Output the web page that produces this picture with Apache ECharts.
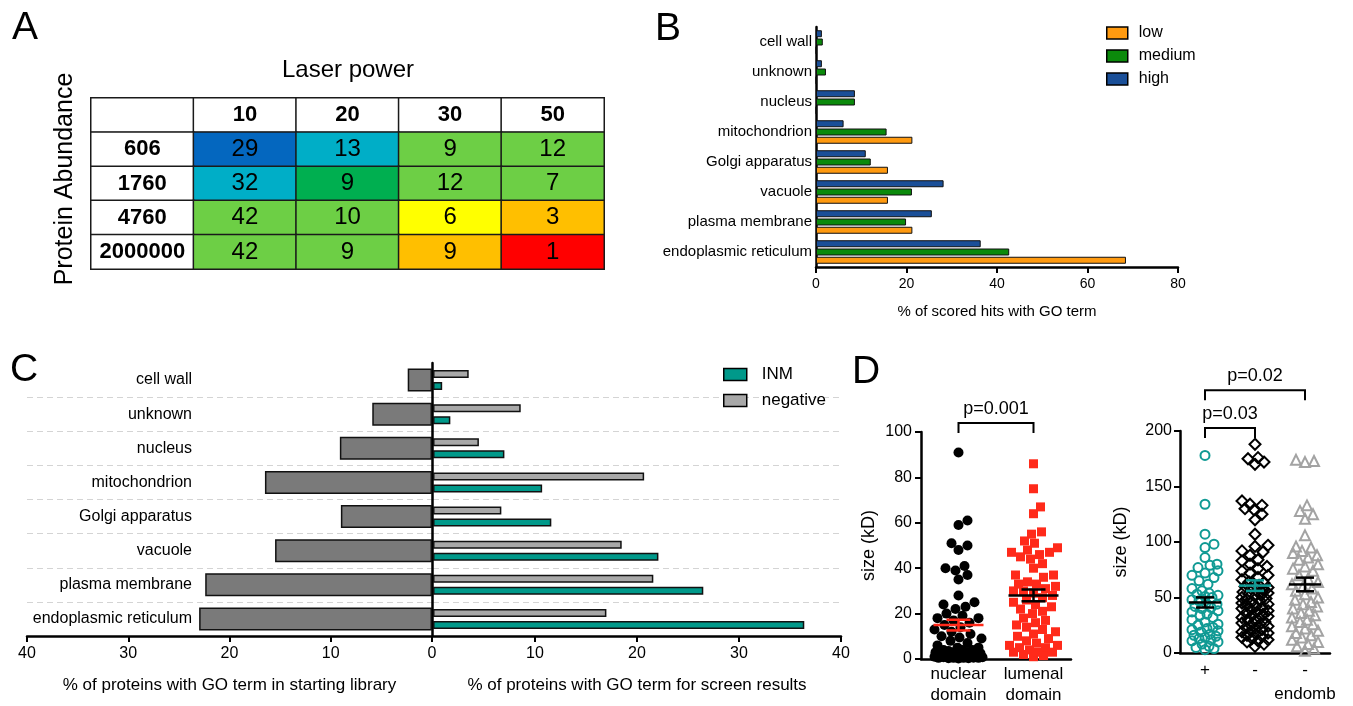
<!DOCTYPE html>
<html>
<head>
<meta charset="utf-8">
<script src="https://cdn.jsdelivr.net/npm/echarts@6/dist/echarts.min.js"></script>
<style>
html, body { margin: 0; padding: 0; background: #fff; }
#chart { width: 1353px; height: 706px; }
</style>
</head>
<body>
<div id="chart"></div>
<script>
// ---------- data ----------
// A: hits per laser power (cols) and protein abundance (rows)
const laserPowers = ['10', '20', '30', '50'];
const abundances = ['606', '1760', '4760', '2000000'];
const hitCounts = [
  [29, 13, 9, 12],
  [32, 9, 12, 7],
  [42, 10, 6, 3],
  [42, 9, 9, 1]
];
const cellTones = [
  ['blue', 'cyan', 'lime', 'lime'],
  ['cyan', 'green', 'lime', 'lime'],
  ['lime', 'lime', 'yellow', 'orange'],
  ['lime', 'lime', 'orange', 'red']
];

// B + C share the GO terms (bottom -> top)
const goTerms = ['endoplasmic reticulum', 'plasma membrane', 'vacuole', 'Golgi apparatus',
  'mitochondrion', 'nucleus', 'unknown', 'cell wall'];
const lowHits = [68.5, 21.3, 15.9, 15.9, 21.3, 0, 0, 0];
const mediumHits = [42.7, 19.9, 21.2, 12.1, 15.6, 8.6, 2.2, 1.5];
const highHits = [36.4, 25.6, 28.2, 11.0, 6.1, 8.6, 1.3, 1.3];

const libraryPct = [23.0, 22.4, 15.5, 9.0, 16.5, 9.1, 5.9, 2.4];
const inmPct = [36.4, 26.5, 22.1, 11.6, 10.7, 7.0, 1.7, 0.9];
const negativePct = [17.0, 21.6, 18.5, 6.7, 20.7, 4.5, 8.6, 3.5];

// D: protein sizes (kD)
const domainCats = ['nuclear\ndomain', 'lumenal\ndomain'];
const nuclearDomain = [91, 61, 59, 51, 50, 48, 41, 40, 39, 37, 35, 28, 25, 24, 23, 22, 20, 19, 18, 18,
  17, 16, 15, 14, 13, 12, 11, 10, 9.5, 9, 8, 7, 6, 5, 5, 4, 4, 3.5, 3, 3, 2.5, 2, 2, 1.5, 1.5, 1, 1,
  0.8, 0.5, 0.5, 0.3, 2, 1.5, 1, 0.5, 0.5, 0.3, 0.2, 3, 4, 2.5, 1.2, 0.8, 0.6];
const lumenalDomain = [86, 75, 67, 64, 56, 55, 52, 51, 49, 47, 47, 46, 45, 44, 42, 37, 37, 36, 34, 33,
  32, 31, 30, 29, 28, 27, 26, 25, 24, 23, 22, 21, 20, 18, 17, 16, 15, 14, 13, 12, 11, 10, 9, 8, 7, 6,
  5, 5, 4, 3, 3, 2, 1.5, 1, 3, 30, 33, 40, 48, 6];

const endombCats = ['+', '-', '-\nendomb'];
const sizePlus = [178, 134, 107, 98, 95, 86, 80, 79, 77, 74, 72, 70, 68, 65, 62, 58, 56, 54, 53, 52,
  51, 50, 48, 47, 45, 44, 42, 41, 40, 38, 37, 35, 34, 32, 30, 28, 26, 25, 23, 21, 19, 17, 15, 14, 12,
  10, 8, 6, 4, 3, 5, 11, 13, 16, 20, 22];
const sizeMinus = [188, 176, 175, 172, 170, 137, 134, 133, 130, 129, 125, 120, 107, 97, 96, 92, 91, 88,
  84, 83, 80, 78, 76, 74, 72, 70, 68, 66, 64, 62, 60, 58, 56, 54, 52, 50, 48, 46, 44, 42, 40, 38, 36,
  34, 32, 30, 28, 26, 24, 22, 20, 18, 16, 14, 12, 10, 8, 6, 11, 13, 15, 17, 19, 21, 23, 25, 27, 29,
  31, 33, 35, 37, 39, 41, 43, 45, 47, 49, 51, 53, 55, 57, 59, 61, 63];
const sizeEndomb = [174, 173, 172, 133, 128, 125, 121, 106, 96, 95, 92, 90, 88, 86, 84, 80, 78, 76, 74,
  70, 67, 64, 62, 60, 58, 56, 53, 50, 48, 46, 44, 42, 40, 38, 36, 34, 32, 30, 28, 26, 24, 22, 20, 18,
  16, 14, 12, 10, 8, 6, 4, 2];

// significance brackets: [from category, to category, level]
const leftBrackets = [[0, 1, 104]];
const leftBracketText = ['p=0.001'];
const rightBrackets = [[0, 1, 202.6], [0, 2, 236.8]];
const rightBracketText = ['p=0.03', 'p=0.02'];

// ---------- helpers ----------
const FONT = 'Liberation Sans';
const toneColors = {
  blue: '#0467BF', cyan: '#00AEC7', green: '#00AF50', lime: '#6DCF45',
  yellow: '#FFFF00', orange: '#FFBF00', red: '#FF0000'
};

// simple deterministic beeswarm: pixel x offsets for each value
function swarm(values, pxPerUnit, diam, maxHalf) {
  const order = values.map((v, i) => i).sort((a, b) => values[a] - values[b]);
  const placed = [];
  const offs = new Array(values.length).fill(0);
  order.forEach(i => {
    const y = values[i] * pxPerUnit;
    let best = 0, bestScore = -1;
    for (let k = 0; k <= 2 * maxHalf; k++) {
      const dx = (k % 2 ? 1 : -1) * Math.ceil(k / 2);
      let minD = Infinity;
      for (const p of placed) {
        const d = Math.hypot(p[0] - dx, p[1] - y);
        if (d < minD) minD = d;
      }
      if (minD >= diam) { best = dx; bestScore = Infinity; break; }
      if (minD > bestScore) { bestScore = minD; best = dx; }
    }
    placed.push([best, y]);
    offs[i] = best;
  });
  return offs;
}

function meanSem(vals) {
  const n = vals.length;
  const m = vals.reduce((a, b) => a + b, 0) / n;
  const sd = Math.sqrt(vals.reduce((a, b) => a + (b - m) * (b - m), 0) / (n - 1));
  return [m, sd / Math.sqrt(n)];
}

function swarmData(cat, values, pxPerUnit, diam, maxHalf) {
  const offs = swarm(values, pxPerUnit, diam, maxHalf);
  return values.map((v, i) => ({ value: [cat, v], symbolOffset: [offs[i], 0] }));
}

function meanMark(halfW, capW, colors) {
  return function (params, api) {
    const x = api.value(0), m = api.value(1), s = api.value(2);
    const c = api.coord([x, m]);
    const hi = api.coord([x, m + s]);
    const lo = api.coord([x, m - s]);
    const st = () => ({ stroke: colors[params.dataIndex], lineWidth: 2.5 });
    return {
      type: 'group',
      children: [
        { type: 'line', shape: { x1: c[0] - halfW, y1: c[1], x2: c[0] + halfW, y2: c[1] }, style: st() },
        { type: 'line', shape: { x1: c[0], y1: hi[1], x2: c[0], y2: lo[1] }, style: st() },
        { type: 'line', shape: { x1: c[0] - capW, y1: hi[1], x2: c[0] + capW, y2: hi[1] }, style: st() },
        { type: 'line', shape: { x1: c[0] - capW, y1: lo[1], x2: c[0] + capW, y2: lo[1] }, style: st() }
      ]
    };
  };
}

function bracketMark(texts) {
  return function (params, api) {
    const y = api.value(2);
    const a = api.coord([api.value(0), y]);
    const b = api.coord([api.value(1), y]);
    return {
      type: 'group',
      children: [
        { type: 'polyline', shape: { points: [[a[0], a[1] + 10], a, b, [b[0], b[1] + 10]] },
          style: { stroke: '#000', lineWidth: 2, fill: 'none' } },
        { type: 'text', x: (a[0] + b[0]) / 2, y: a[1] - 5,
          style: { text: texts[params.dataIndex], fontSize: 18, fontFamily: FONT, fill: '#000',
                   align: 'center', verticalAlign: 'bottom' } }
      ]
    };
  };
}

// heatmap cells incl. header row / column
const tableCells = [];
for (let r = 0; r <= abundances.length; r++) {
  for (let c = 0; c <= laserPowers.length; c++) {
    let text = '', color = '#fff', bold = false, v = 0;
    if (r === 0 && c > 0) { text = laserPowers[c - 1]; bold = true; }
    else if (c === 0 && r > 0) { text = abundances[r - 1]; bold = true; }
    else if (r > 0 && c > 0) {
      v = hitCounts[r - 1][c - 1];
      text = String(v);
      color = toneColors[cellTones[r - 1][c - 1]];
    }
    tableCells.push({
      value: [c, r, v],
      itemStyle: { color },
      label: { formatter: text, fontWeight: bold ? 'bold' : 'normal', fontSize: bold ? 22 : 24 }
    });
  }
}

// layout constants for the swarm panels
const dLeftH = 227, dRightH = 228;
const nucMS = meanSem(nuclearDomain), lumMS = meanSem(lumenalDomain);
const plusMS = meanSem(sizePlus), minusMS = meanSem(sizeMinus), endMS = meanSem(sizeEndomb);

const blackAxis = { lineStyle: { color: '#000', width: 2.5 } };
const outTick = { show: true, length: 6, lineStyle: { color: '#000', width: 2 } };
const dashSplit = { show: true, showMinLine: false, showMaxLine: false,
  lineStyle: { color: '#d4d4d4', type: [6, 4], width: 1 } };

const myChart = echarts.init(document.getElementById('chart'));

const option = {
  animation: false,
  textStyle: { fontFamily: FONT, color: '#000' },
  graphic: [
    { type: 'text', x: 12, y: 28, style: { text: 'A', fontSize: 39, fontFamily: FONT, fill: '#000', verticalAlign: 'middle' } },
    { type: 'text', x: 655, y: 29, style: { text: 'B', fontSize: 39, fontFamily: FONT, fill: '#000', verticalAlign: 'middle' } },
    { type: 'text', x: 10, y: 370, style: { text: 'C', fontSize: 39, fontFamily: FONT, fill: '#000', verticalAlign: 'middle' } },
    { type: 'text', x: 852, y: 372, style: { text: 'D', fontSize: 39, fontFamily: FONT, fill: '#000', verticalAlign: 'middle' } },
    { type: 'text', x: 348, y: 70, style: { text: 'Laser power', fontSize: 24, fontFamily: FONT, fill: '#000', align: 'center', verticalAlign: 'middle' } },
    { type: 'text', x: 65, y: 179, rotation: Math.PI / 2,
      style: { text: 'Protein Abundance', fontSize: 25, fontFamily: FONT, fill: '#000', align: 'center', verticalAlign: 'middle' } }
  ],
  legend: [
    {
      data: ['low', 'medium', 'high'], orient: 'vertical', left: 1106, top: 25, padding: 0,
      itemWidth: 21, itemHeight: 12, itemGap: 7, icon: 'rect',
      itemStyle: { borderColor: '#000', borderWidth: 1.5 },
      textStyle: { fontSize: 16, fontFamily: FONT, color: '#000', padding: [0, 0, 0, 6] }
    },
    {
      data: ['INM', 'negative'], orient: 'vertical', left: 723, top: 366, padding: 0,
      itemWidth: 23, itemHeight: 12, itemGap: 9, icon: 'rect',
      itemStyle: { borderColor: '#000', borderWidth: 1.5 },
      textStyle: { fontSize: 17, fontFamily: FONT, color: '#000', padding: [0, 0, 0, 10] }
    }
  ],
  grid: [
    { left: 91, top: 98, width: 513, height: 171 },   // A
    { left: 816, top: 27, width: 362, height: 240 },  // B
    { left: 27, top: 363, width: 405, height: 273 },  // C left
    { left: 433, top: 363, width: 408, height: 273 }, // C right
    { left: 921, top: 432, width: 150, height: dLeftH },  // D left
    { left: 1180, top: 431, width: 150, height: dRightH } // D right
  ],
  xAxis: [
    { gridIndex: 0, type: 'category', data: [''].concat(laserPowers), show: false },
    { gridIndex: 1, type: 'value', min: 0, max: 80, interval: 20, axisLine: { show: true, ...blackAxis },
      axisTick: outTick, splitLine: { show: false },
      axisLabel: { fontSize: 14, margin: 10, color: '#000' },
      name: '% of scored hits with GO term', nameLocation: 'middle', nameGap: 37,
      nameTextStyle: { fontSize: 15, color: '#000' } },
    { gridIndex: 2, type: 'value', min: 0, max: 40, interval: 10, inverse: true,
      axisLine: { show: true, ...blackAxis }, axisTick: outTick, splitLine: { show: false },
      axisLabel: { fontSize: 16, margin: 10, color: '#000' },
      name: '% of proteins with GO term in starting library', nameLocation: 'middle', nameGap: 41,
      nameTextStyle: { fontSize: 17, color: '#000' } },
    { gridIndex: 3, type: 'value', min: 0, max: 40, interval: 10,
      axisLine: { show: true, ...blackAxis }, axisTick: outTick, splitLine: { show: false },
      axisLabel: { fontSize: 16, margin: 10, color: '#000', showMinLabel: false },
      name: '% of proteins with GO term for screen results', nameLocation: 'middle', nameGap: 41,
      nameTextStyle: { fontSize: 17, color: '#000' } },
    { gridIndex: 4, type: 'category', data: domainCats, axisLine: { show: true, ...blackAxis },
      axisTick: { show: false }, axisLabel: { fontSize: 17, lineHeight: 21, margin: 5, color: '#000', interval: 0 } },
    { gridIndex: 5, type: 'category', data: endombCats, axisLine: { show: true, ...blackAxis },
      axisTick: { show: false }, axisLabel: { fontSize: 17, lineHeight: 24, margin: 5, color: '#000', interval: 0 } }
  ],
  yAxis: [
    { gridIndex: 0, type: 'category', data: [''].concat(abundances), inverse: true, show: false },
    { gridIndex: 1, type: 'category', data: goTerms, axisLine: { show: true, ...blackAxis },
      axisTick: { show: false }, axisLabel: { fontSize: 15, margin: 4, color: '#000', interval: 0 } },
    { gridIndex: 2, type: 'category', data: goTerms, position: 'right',
      axisLine: { show: true, ...blackAxis }, axisTick: { show: false }, splitLine: dashSplit,
      axisLabel: { inside: true, margin: 240, fontSize: 16, color: '#000', interval: 0 } },
    { gridIndex: 3, type: 'category', data: goTerms, axisLine: { show: false },
      axisTick: { show: false }, axisLabel: { show: false }, splitLine: dashSplit },
    { gridIndex: 4, type: 'value', min: 0, max: 100, interval: 20, axisLine: { show: true, ...blackAxis },
      axisTick: outTick, splitLine: { show: false }, axisLabel: { fontSize: 16, margin: 9, color: '#000' },
      name: 'size (kD)', nameLocation: 'middle', nameGap: 43, nameTextStyle: { fontSize: 18, color: '#000' } },
    { gridIndex: 5, type: 'value', min: 0, max: 200, interval: 50, axisLine: { show: true, ...blackAxis },
      axisTick: outTick, splitLine: { show: false }, axisLabel: { fontSize: 16, margin: 8, color: '#000' },
      name: 'size (kD)', nameLocation: 'middle', nameGap: 50, nameTextStyle: { fontSize: 18, color: '#000' } }
  ],
  series: [
    // A
    { type: 'heatmap', xAxisIndex: 0, yAxisIndex: 0, data: tableCells,
      itemStyle: { borderColor: '#1a1a1a', borderWidth: 1.5 },
      label: { show: true, color: '#000', fontFamily: FONT }, emphasis: { disabled: true } },
    // B (first series sits on top of each group)
    { name: 'high', type: 'bar', xAxisIndex: 1, yAxisIndex: 1, data: highHits, barWidth: 7, barGap: '18%',
      itemStyle: { color: '#1A4F98', borderColor: '#111', borderWidth: 1 } },
    { name: 'medium', type: 'bar', xAxisIndex: 1, yAxisIndex: 1, data: mediumHits, barWidth: 7, barGap: '18%',
      itemStyle: { color: '#0B8A0B', borderColor: '#111', borderWidth: 1 } },
    { name: 'low', type: 'bar', xAxisIndex: 1, yAxisIndex: 1, data: lowHits, barWidth: 7, barGap: '18%',
      itemStyle: { color: '#FF9A10', borderColor: '#111', borderWidth: 1 } },
    // C
    { name: 'library', type: 'bar', xAxisIndex: 2, yAxisIndex: 2, data: libraryPct, barWidth: 23,
      itemStyle: { color: '#7A7A7A', borderColor: '#111', borderWidth: 1.5 } },
    { name: 'negative', type: 'bar', xAxisIndex: 3, yAxisIndex: 3, data: negativePct, barWidth: 8, barGap: '50%',
      itemStyle: { color: '#A8A8A8', borderColor: '#111', borderWidth: 1.5 } },
    { name: 'INM', type: 'bar', xAxisIndex: 3, yAxisIndex: 3, data: inmPct, barWidth: 8, barGap: '50%',
      itemStyle: { color: '#00998A', borderColor: '#111', borderWidth: 1.5 } },
    // D left
    { type: 'scatter', xAxisIndex: 4, yAxisIndex: 4, symbol: 'circle', symbolSize: 10,
      itemStyle: { color: '#000', opacity: 1 }, data: swarmData(0, nuclearDomain, dLeftH / 100, 9.5, 24) },
    { type: 'scatter', xAxisIndex: 4, yAxisIndex: 4, symbol: 'rect', symbolSize: 9,
      itemStyle: { color: '#FF2A1A', opacity: 1 }, data: swarmData(1, lumenalDomain, dLeftH / 100, 9.5, 24) },
    { type: 'custom', xAxisIndex: 4, yAxisIndex: 4, z: 5, clip: false,
      renderItem: meanMark(25, 12, ['#FF2A1A', '#000']),
      data: [[0, nucMS[0], nucMS[1]], [1, lumMS[0], lumMS[1]]] },
    { type: 'custom', xAxisIndex: 4, yAxisIndex: 4, z: 5, clip: false,
      renderItem: bracketMark(leftBracketText), data: leftBrackets },
    // D right
    { type: 'scatter', xAxisIndex: 5, yAxisIndex: 5, symbol: 'circle', symbolSize: 9,
      itemStyle: { color: 'rgba(255,255,255,0)', borderColor: '#109A94', borderWidth: 2, opacity: 1 },
      data: swarmData(0, sizePlus, dRightH / 200, 9, 13) },
    { type: 'scatter', xAxisIndex: 5, yAxisIndex: 5, symbol: 'diamond', symbolSize: 11,
      itemStyle: { color: 'rgba(255,255,255,0)', borderColor: '#000', borderWidth: 2, opacity: 1 },
      data: swarmData(1, sizeMinus, dRightH / 200, 9, 13) },
    { type: 'scatter', xAxisIndex: 5, yAxisIndex: 5, symbol: 'triangle', symbolSize: 10,
      itemStyle: { color: 'rgba(255,255,255,0)', borderColor: '#A3A3A3', borderWidth: 2, opacity: 1 },
      data: swarmData(2, sizeEndomb, dRightH / 200, 9, 13) },
    { type: 'custom', xAxisIndex: 5, yAxisIndex: 5, z: 5, clip: false,
      renderItem: meanMark(16, 9, ['#000', '#109A94', '#000']),
      data: [[0, plusMS[0], plusMS[1]], [1, minusMS[0], minusMS[1]], [2, endMS[0], endMS[1]]] },
    { type: 'custom', xAxisIndex: 5, yAxisIndex: 5, z: 5, clip: false,
      renderItem: bracketMark(rightBracketText), data: rightBrackets }
  ]
};

myChart.setOption(option);

window.addEventListener('resize', () => {
  myChart.resize();
});
</script>
</body>
</html>
